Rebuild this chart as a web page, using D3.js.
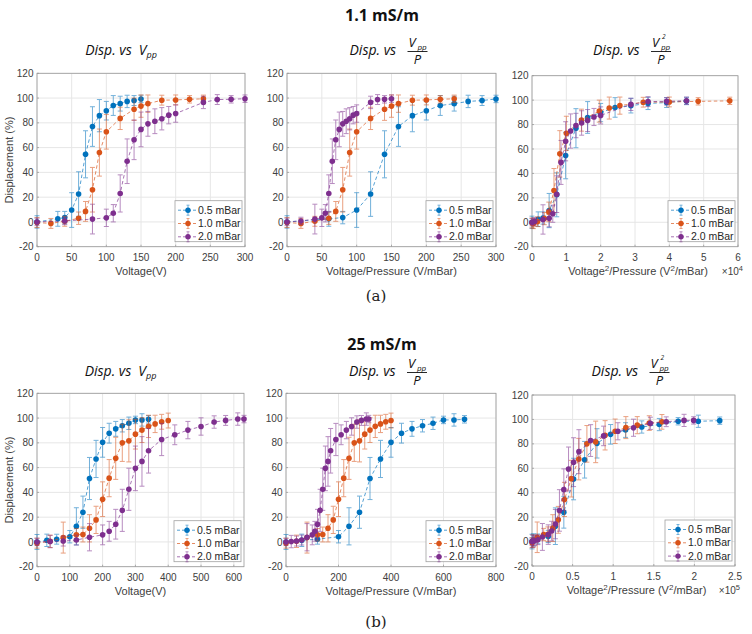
<!DOCTYPE html>
<html>
<head>
<meta charset="utf-8">
<script src="https://cdn.jsdelivr.net/npm/d3@7"></script>
<style>
  body { margin: 0; background: #fff; }
</style>
</head>
<body>
<div id="chart"></div>
<script>

// ======================= //
// DATA
// ======================= //

var seriesNames = ["0.5 mBar", "1.0 mBar", "2.0 mBar"]
var pressures = [0.5, 1.0, 2.0]
var colors = ["#0072BD", "#D95319", "#7E2F8E"]

// 1.1 mS/m : voltage (V), displacement (%), error (%)
var volt11_05 = [0, 30, 40, 50, 60, 70, 80, 90, 100, 110, 120, 130, 140, 150]
var disp11_05 = [0, 2.5, 3.5, 9.6, 22.5, 54.6, 77, 85.8, 89.8, 94, 95.5, 97.3, 98, 99.3]
var err11_05  = [5, 6, 5, 14, 18, 19, 16, 13, 7.5, 8, 6, 5, 4, 3]

var volt11_10 = [0, 20, 40, 60, 70, 80, 90, 100, 120, 140, 150, 160, 180, 200, 220, 240]
var disp11_10 = [-0.5, -1.2, 0.5, 3, 8.5, 26, 56, 72.8, 83.6, 91, 93.5, 95.5, 98.3, 98.5, 99, 99.4]
var err11_10  = [4, 4, 4, 5, 8, 18, 19, 14, 9, 9, 9, 7, 4, 4, 3, 3]

var volt11_20 = [0, 40, 80, 100, 110, 120, 130, 140, 150, 160, 170, 180, 190, 200, 240, 260, 280, 300]
var disp11_20 = [0, 0.8, 2.3, 3.3, 7, 23, 49, 66.3, 74.7, 79.2, 81.3, 83.3, 86.2, 87.5, 96.5, 98.8, 99, 99.5]
var err11_20  = [3, 3, 12, 7, 7, 15, 18, 16, 14, 10, 10, 9, 7, 7, 5, 4, 3, 3]

// 25 mS/m
var volt25_05 = [0, 30, 60, 100, 120, 140, 160, 180, 200, 220, 240, 260, 280, 300, 320, 340]
var disp25_05 = [0, 1.3, 2.2, 4.2, 12.6, 24, 51.2, 67, 80.4, 87.8, 91.3, 93.8, 95.8, 98.5, 98.5, 99]
var err25_05  = [6, 5, 4, 5, 15, 13, 17, 15, 12, 8, 6, 5, 5, 3, 5, 3]

var volt25_10 = [0, 40, 80, 120, 140, 160, 180, 200, 220, 240, 260, 280, 300, 320, 340, 360, 380, 400]
var disp25_10 = [-1, 0.5, 3.5, 5.8, 6, 11, 17.8, 34.5, 51.5, 67.5, 80, 81.6, 87, 90.3, 93.3, 95.3, 97, 98]
var err25_10  = [4, 5, 12.5, 5, 6, 11, 11, 14, 15, 17, 15, 17, 12, 10, 9, 7, 6, 6]

var volt25_20 = [0, 40, 80, 120, 160, 200, 220, 240, 260, 280, 300, 320, 340, 380, 420, 460, 500, 540, 575, 612, 631]
var disp25_20 = [0, 0.3, 0.7, 1.5, 3.8, 5.7, 8.6, 14.3, 25.5, 42.5, 59.4, 65, 73.6, 82.7, 86.5, 90.3, 93.2, 96.8, 98.1, 99.2, 99.2]
var err25_20  = [3, 5, 4, 4, 11, 8, 8, 12, 17, 17, 18, 20, 18, 13, 8, 7, 7, 5, 4, 5, 3]

// axis ticks
var yTicks = [-20, 0, 20, 40, 60, 80, 100, 120]
var ticksV11 = [0, 50, 100, 150, 200, 250, 300]
var ticksVP11 = [0, 50, 100, 150, 200, 250, 300]
var ticksV2P11 = [0, 1, 2, 3, 4, 5, 6]            // x 10^4
var ticksV25 = [0, 100, 200, 300, 400, 500, 600]
var ticksVP25 = [0, 200, 400, 600, 800]
var ticksV2P25 = [0, 0.5, 1, 1.5, 2, 2.5]         // x 10^5

var groupTitles = ["1.1 mS/m", "25 mS/m"]
var panelLabels = ["(a)", "(b)"]


// ======================= //
// SVG AND LAYOUT
// ======================= //

var W = 752, H = 634
var svg = d3.select("#chart").append("svg")
  .attr("width", W).attr("height", H)

var axisFont = "'Liberation Sans', Arial, sans-serif"
var titleFont = "'Open Sans', 'Noto Sans', sans-serif"

function buildSeries(volts, disps, errs, k, kind){
  return volts.map(function(v, i){
    var p = pressures[k]
    var xv = kind == "V" ? v : (kind == "VP" ? v / p : v * v / p)
    return {x: xv, y: disps[i], e: errs[i]}
  })
}

var set11 = [[volt11_05, disp11_05, err11_05], [volt11_10, disp11_10, err11_10], [volt11_20, disp11_20, err11_20]]
var set25 = [[volt25_05, disp25_05, err25_05], [volt25_10, disp25_10, err25_10], [volt25_20, disp25_20, err25_20]]

var panels = [
  {set: set11, kind: "V",   box: [37, 73.3, 245, 246.7],  xmax: 300,   ticks: ticksV11,   scale: 1,   exp: null, ylabel: true,  title: "plain"},
  {set: set11, kind: "VP",  box: [287, 73.3, 496, 246.7], xmax: 300,   ticks: ticksVP11,  scale: 1,   exp: null, ylabel: false, title: "frac"},
  {set: set11, kind: "V2P", box: [532, 75.7, 738, 246.7], xmax: 6e4,   ticks: ticksV2P11, scale: 1e4, exp: "4",  ylabel: false, title: "frac2"},
  {set: set25, kind: "V",   box: [37, 393.3, 244, 566.7], xmax: 631,   ticks: ticksV25,   scale: 1,   exp: null, ylabel: true,  title: "plain"},
  {set: set25, kind: "VP",  box: [286, 393.3, 496, 566.7],xmax: 800,   ticks: ticksVP25,  scale: 1,   exp: null, ylabel: false, title: "frac"},
  {set: set25, kind: "V2P", box: [532, 395, 735, 566],    xmax: 2.5e5, ticks: ticksV2P25, scale: 1e5, exp: "5",  ylabel: false, title: "frac2"}
]


// ======================= //
// PANELS
// ======================= //

panels.forEach(function(pn, pi){
  var x0 = pn.box[0], y0 = pn.box[1], x1 = pn.box[2], y1 = pn.box[3]
  var x = d3.scaleLinear().domain([0, pn.xmax]).range([x0, x1])
  var y = d3.scaleLinear().domain([-20, 120]).range([y1, y0])
  var g = svg.append("g")

  // grid
  g.selectAll(".gx").data(pn.ticks).enter().append("line")
    .attr("x1", function(d){ return x(d * pn.scale) }).attr("x2", function(d){ return x(d * pn.scale) })
    .attr("y1", y0).attr("y2", y1)
    .style("stroke", "#e6e6e6").style("stroke-width", 1)
  g.selectAll(".gy").data(yTicks).enter().append("line")
    .attr("x1", x0).attr("x2", x1)
    .attr("y1", function(d){ return y(d) }).attr("y2", function(d){ return y(d) })
    .style("stroke", "#e6e6e6").style("stroke-width", 1)

  // box
  g.append("rect")
    .attr("x", x0).attr("y", y0).attr("width", x1 - x0).attr("height", y1 - y0)
    .style("fill", "none").style("stroke", "#9a9a9a").style("stroke-width", 0.8)

  // inward ticks
  g.selectAll(".tx").data(pn.ticks).enter().append("line")
    .attr("x1", function(d){ return x(d * pn.scale) }).attr("x2", function(d){ return x(d * pn.scale) })
    .attr("y1", y1).attr("y2", y1 - 2)
    .style("stroke", "#9a9a9a").style("stroke-width", 0.8)
  g.selectAll(".ty").data(yTicks).enter().append("line")
    .attr("x1", x0).attr("x2", x0 + 2)
    .attr("y1", function(d){ return y(d) }).attr("y2", function(d){ return y(d) })
    .style("stroke", "#9a9a9a").style("stroke-width", 0.8)

  // tick labels
  g.selectAll(".lx").data(pn.ticks).enter().append("text")
    .attr("x", function(d){ return x(d * pn.scale) })
    .attr("y", y1 + 14)
    .attr("text-anchor", "middle")
    .style("font-family", axisFont).style("font-size", "10px").style("fill", "#404040")
    .text(function(d){ return d })
  g.selectAll(".ly").data(yTicks).enter().append("text")
    .attr("x", x0 - 3.5)
    .attr("y", function(d){ return y(d) + 3.6 })
    .attr("text-anchor", "end")
    .style("font-family", axisFont).style("font-size", "10px").style("fill", "#404040")
    .text(function(d){ return d })

  // axis labels
  var xl = g.append("text")
    .attr("x", (x0 + x1) / 2 + (pn.kind == "V2P" ? 3 : 0)).attr("y", y1 + 28)
    .attr("text-anchor", "middle")
    .style("font-family", axisFont).style("font-size", "11px").style("fill", "#404040")
  if(pn.kind == "V"){
    xl.text("Voltage(V)")
  } else if(pn.kind == "VP"){
    xl.text("Voltage/Pressure (V/mBar)")
  } else {
    xl.append("tspan").text("Voltage")
    xl.append("tspan").attr("dy", -4).style("font-size", "8px").text("2")
    xl.append("tspan").attr("dy", 4).text("/Pressure (V")
    xl.append("tspan").attr("dy", -4).style("font-size", "8px").text("2")
    xl.append("tspan").attr("dy", 4).text("/mBar)")
  }
  if(pn.exp){
    var ex = g.append("text")
      .attr("x", x1 + 5).attr("y", y1 + 28)
      .attr("text-anchor", "end")
      .style("font-family", axisFont).style("font-size", "10px").style("fill", "#404040")
    ex.append("tspan").text("\u00d710")
    ex.append("tspan").attr("dy", -4).style("font-size", "7.5px").text(pn.exp)
  }
  if(pn.ylabel){
    g.append("text")
      .attr("transform", "translate(" + 13 + "," + ((y0 + y1) / 2) + ")rotate(-90)")
      .attr("text-anchor", "middle")
      .style("font-family", axisFont).style("font-size", "11px").style("fill", "#404040")
      .text("Displacement (%)")
  }

  // series
  var line = d3.line().x(function(d){ return x(d.x) }).y(function(d){ return y(d.y) })
  pn.set.forEach(function(s, k){
    var data = buildSeries(s[0], s[1], s[2], k, pn.kind)
    var c = colors[k]
    var sg = g.append("g")
    sg.append("path").datum(data)
      .attr("d", line)
      .style("fill", "none").style("stroke", c).style("stroke-width", 0.9)
      .style("stroke-dasharray", "3.5,2.5").style("opacity", 0.75)
    var eb = sg.selectAll(".eb").data(data).enter().append("g").style("opacity", 0.55)
    eb.append("line")
      .attr("x1", function(d){ return x(d.x) }).attr("x2", function(d){ return x(d.x) })
      .attr("y1", function(d){ return y(d.y - d.e) }).attr("y2", function(d){ return y(d.y + d.e) })
      .style("stroke", c).style("stroke-width", 1)
    eb.append("line")
      .attr("x1", function(d){ return x(d.x) - 2.5 }).attr("x2", function(d){ return x(d.x) + 2.5 })
      .attr("y1", function(d){ return y(d.y - d.e) }).attr("y2", function(d){ return y(d.y - d.e) })
      .style("stroke", c).style("stroke-width", 1)
    eb.append("line")
      .attr("x1", function(d){ return x(d.x) - 2.5 }).attr("x2", function(d){ return x(d.x) + 2.5 })
      .attr("y1", function(d){ return y(d.y + d.e) }).attr("y2", function(d){ return y(d.y + d.e) })
      .style("stroke", c).style("stroke-width", 1)
    sg.selectAll(".mk").data(data).enter().append("circle")
      .attr("cx", function(d){ return x(d.x) }).attr("cy", function(d){ return y(d.y) })
      .attr("r", 2.8)
      .style("fill", c)
  })

  // legend
  var lw = 67, lh = 41
  var lx = x1 - 3 - lw, ly = y1 - 5 - lh
  var lg = g.append("g")
  lg.append("rect").attr("x", lx).attr("y", ly).attr("width", lw).attr("height", lh)
    .style("fill", "#fff").style("stroke", "#a0a0a0").style("stroke-width", 0.8)
  seriesNames.forEach(function(name, k){
    var ry = ly + 9.5 + k * 13.3
    var c = colors[k]
    lg.append("line").attr("x1", lx + 3).attr("x2", lx + 21).attr("y1", ry).attr("y2", ry)
      .style("stroke", c).style("stroke-width", 0.9).style("stroke-dasharray", "3,2").style("opacity", 0.75)
    var le = lg.append("g").style("opacity", 0.55)
    le.append("line").attr("x1", lx + 13).attr("x2", lx + 13).attr("y1", ry - 5).attr("y2", ry + 5)
      .style("stroke", c)
    le.append("line").attr("x1", lx + 11.5).attr("x2", lx + 14.5).attr("y1", ry - 5).attr("y2", ry - 5)
      .style("stroke", c)
    le.append("line").attr("x1", lx + 11.5).attr("x2", lx + 14.5).attr("y1", ry + 5).attr("y2", ry + 5)
      .style("stroke", c)
    lg.append("circle").attr("cx", lx + 13).attr("cy", ry).attr("r", 2.7).style("fill", c)
    lg.append("text").attr("x", lx + 23).attr("y", ry + 3.6)
      .style("font-family", axisFont).style("font-size", "10.5px").style("fill", "#262626")
      .text(name)
  })

  // subplot title
  var base = pi < 3 ? 55 : 376
  var cx = (x0 + x1) / 2
  var tStyle = function(sel, size){
    return sel.style("font-family", titleFont).style("font-style", "italic")
      .style("font-size", size).style("fill", "#111")
  }
  if(pn.title == "plain"){
    var t = tStyle(g.append("text").attr("x", cx - 20).attr("y", base).attr("text-anchor", "middle"), "14px")
    t.append("tspan").text("Disp. vs\u2002V")
    t.append("tspan").attr("dy", 2.5).style("font-size", "9px").text("pp")
  } else {
    var tx = cx - 42
    tStyle(g.append("text").attr("x", tx).attr("y", base), "14px").text("Disp. vs")
    var fx = tx + 58
    tStyle(g.append("text").attr("x", fx + 1).attr("y", base - 8), "13px").text("V")
    tStyle(g.append("text").attr("x", fx + 10).attr("y", base - 5), "8px").text("pp")
    if(pn.title == "frac2"){
      tStyle(g.append("text").attr("x", fx + 11).attr("y", base - 16.5), "6.5px").text("2")
    }
    g.append("line").attr("x1", fx).attr("x2", fx + 20).attr("y1", base - 3.5).attr("y2", base - 3.5)
      .style("stroke", "#111").style("stroke-width", 0.9)
    tStyle(g.append("text").attr("x", fx + 10).attr("y", base + 9).attr("text-anchor", "middle"), "13px")
      .text("P")
  }
})


// ======================= //
// GROUP TITLES
// ======================= //

svg.selectAll(".gt").data(groupTitles).enter().append("text")
  .attr("x", 382).attr("y", function(d, i){ return i == 0 ? 21 : 350 })
  .attr("text-anchor", "middle")
  .style("font-family", titleFont).style("font-weight", "bold").style("font-size", "16px").style("fill", "#111")
  .text(function(d){ return d })

svg.selectAll(".pl").data(panelLabels).enter().append("text")
  .attr("x", 376).attr("y", function(d, i){ return i == 0 ? 301 : 627 })
  .attr("text-anchor", "middle")
  .style("font-family", "'DejaVu Serif', 'Liberation Serif', serif").style("font-size", "15px").style("fill", "#222")
  .text(function(d){ return d })

</script>
</body>
</html>
